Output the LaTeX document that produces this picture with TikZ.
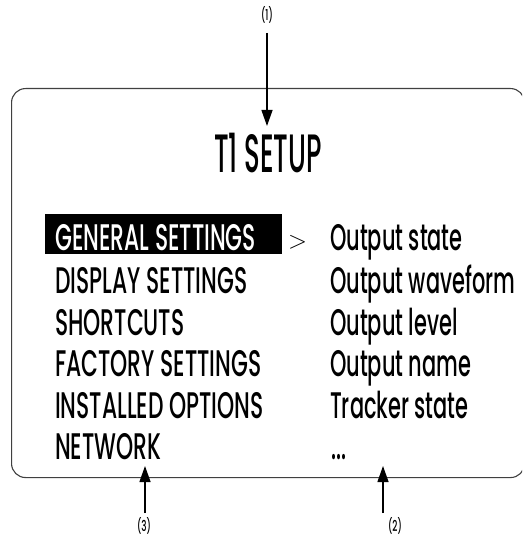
\documentclass[tikz,border=0pt]{standalone}
\usepackage{fontspec}
\usetikzlibrary{arrows.meta}
\newfontfamily\condfont[FakeStretch=0.59]{Poppins Medium}
\newfontfamily\rightfont[FakeStretch=0.565]{Poppins Medium}
\newfontfamily\titlefont[FakeStretch=0.48]{Poppins Medium}
\tikzset{
  menuitem/.style={anchor=base west, inner sep=0pt, font=\condfont\fontsize{37}{37}\selectfont},
  subitem/.style={anchor=base west, inner sep=0pt, font=\rightfont\fontsize{37}{37}\selectfont},
  titletext/.style={anchor=base, inner sep=0pt, font=\titlefont\fontsize{54}{54}\selectfont},
  calltext/.style={anchor=base, inner sep=0pt, font=\condfont\fontsize{15}{15}\selectfont},
  callarrow/.style={line width=1.3pt, -{Triangle[length=16pt,width=11pt]}},
  screenbox/.style={draw=black!75, line width=1.1pt, rounded corners=14pt, fill=none}
}
\begin{document}
\begin{tikzpicture}[x=1pt,y=-1pt]
\useasboundingbox (0,0) rectangle (522,537);
\clip (0,0) rectangle (522,537);
% screen frame
\node[screenbox, minimum width=513pt, minimum height=389pt, anchor=north west, inner sep=0pt] (screen) at (11,88) {};
% title
\node[titletext] (title) at (268,173) {T1 SETUP};
% highlight bar
\node[fill=black, anchor=north west, minimum width=237pt, minimum height=40pt, inner sep=0pt] (hl) at (45,214) {};
% left menu
\node[menuitem, text=white] (m1) at (55,250) {GENERAL SETTINGS};
\node[menuitem] (m2) at (55,293) {DISPLAY SETTINGS};
\node[menuitem] (m3) at (55,335) {SHORTCUTS};
\node[menuitem] (m4) at (55,376) {FACTORY SETTINGS};
\node[menuitem] (m5) at (55,418) {INSTALLED OPTIONS};
\node[menuitem] (m6) at (55,459) {NETWORK};
% selector
\node[anchor=base west, inner sep=0pt, font=\fontsize{28}{28}\selectfont] (sel) at (288,248) {$>$};
% right menu
\node[subitem] (r1) at (330,250) {Output state};
\node[subitem] (r2) at (330,293) {Output waveform};
\node[subitem] (r3) at (330,335) {Output level};
\node[subitem] (r4) at (330,376) {Output name};
\node[subitem] (r5) at (330,418) {Tracker state};
\node[subitem] (r6) at (331,459) {...};
% callouts
\node[calltext] (c1) at (267,21) {(1)};
\node[calltext] (c3) at (144,531) {(3)};
\node[calltext] (c2) at (395,531) {(2)};
\coordinate (c1s) at (267,33);
\coordinate (c1e) at (267,126);
\coordinate (c3s) at (145,513);
\coordinate (c3e) at (145,466);
\coordinate (c2s) at (383,513);
\coordinate (c2e) at (383,466);
\draw[callarrow] (c1s) -- (c1e);
\draw[callarrow] (c3s) -- (c3e);
\draw[callarrow] (c2s) -- (c2e);
\end{tikzpicture}
\end{document}
